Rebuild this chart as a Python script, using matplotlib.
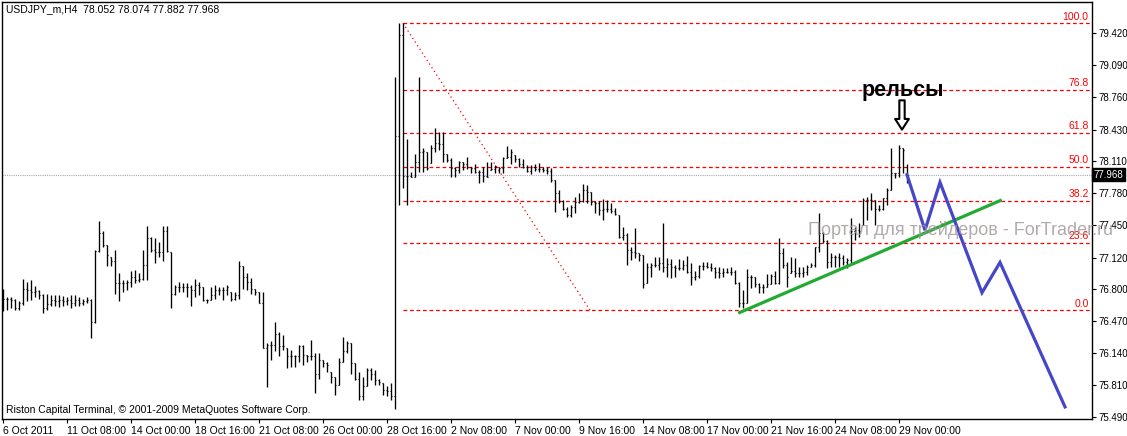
import numpy as np
import matplotlib.pyplot as plt

plt.rcParams['font.family'] = ['Liberation Sans', 'DejaVu Sans']
plt.rcParams['font.size'] = 7

# ---- data (H4 bars, index = bar number) ----
symbol = 'USDJPY_m,H4'

opens = [
    76.62, 76.70, 76.70, 76.69, 76.60, 76.65, 76.80, 76.79, 76.77, 76.78,
    76.74, 76.60, 76.64, 76.69, 76.67, 76.69, 76.67, 76.68, 76.65, 76.69,
    76.65, 76.67, 76.69, 76.46, 77.19, 77.37, 77.25, 77.13, 77.08, 76.86,
    76.86, 76.86, 76.87, 76.92, 76.89, 76.90, 77.04, 77.32, 77.20, 77.18,
    77.18, 77.39, 77.18, 76.75, 76.82, 76.82, 76.82, 76.82, 76.79, 76.84,
    76.82, 76.69, 76.69, 76.74, 76.79, 76.79, 76.79, 76.77, 76.70, 76.74,
    77.03, 76.92, 76.87, 76.80, 76.77, 76.65, 76.19, 76.22, 76.22, 76.34,
    76.21, 76.19, 76.11, 76.11, 76.11, 76.21, 76.12, 76.11, 76.11, 75.93,
    76.07, 76.04, 75.95, 75.90, 75.81, 76.05, 76.16, 76.24, 76.04, 75.88,
    75.70, 75.80, 75.97, 75.93, 75.87, 75.83, 75.76, 75.75, 75.70, 78.36,
    79.40, 77.96, 77.96, 77.94, 78.10, 78.20, 78.20, 78.09, 78.24, 78.29,
    78.28, 78.18, 78.12, 78.04, 78.02, 78.10, 78.08, 78.05, 78.04, 78.00,
    78.00, 77.96, 78.02, 78.03, 78.05, 78.04, 78.14, 78.15, 78.17, 78.13,
    78.08, 78.05, 78.01, 78.05, 78.03, 78.03, 78.02, 78.01, 77.91, 77.78,
    77.70, 77.62, 77.56, 77.64, 77.69, 77.70, 77.81, 77.79, 77.69, 77.68,
    77.61, 77.62, 77.62, 77.60, 77.56, 77.33, 77.35, 77.20, 77.18, 77.17,
    77.15, 76.86, 77.02, 77.04, 77.04, 77.06, 77.02, 77.05, 77.02, 77.01,
    77.01, 77.04, 76.97, 76.92, 76.93, 77.03, 77.03, 77.02, 77.01, 76.97,
    76.96, 76.97, 76.97, 76.97, 76.86, 76.65, 76.65, 76.92, 76.92, 76.85,
    76.82, 76.82, 76.85, 76.93, 76.86, 77.17, 77.04, 76.96, 76.98, 76.96,
    76.96, 76.97, 77.02, 77.04, 77.23, 77.37, 77.29, 77.07, 77.13, 77.13,
    77.12, 77.07, 77.09, 77.39, 77.40, 77.45, 77.71, 77.71, 77.71, 77.62,
    77.62, 77.73, 77.81, 77.99, 77.99, 78.24, 78.052,
]

highs = [
    76.80, 76.72, 76.72, 76.70, 76.67, 76.90, 76.87, 76.89, 76.83, 76.79,
    76.75, 76.75, 76.74, 76.74, 76.74, 76.73, 76.72, 76.74, 76.74, 76.72,
    76.70, 76.72, 76.70, 77.20, 77.49, 77.39, 77.25, 77.13, 77.20, 76.96,
    76.89, 76.89, 76.98, 76.99, 76.96, 77.20, 77.44, 77.33, 77.32, 77.28,
    77.44, 77.44, 77.18, 76.84, 76.87, 76.86, 76.86, 76.84, 76.90, 76.87,
    76.82, 76.70, 76.82, 76.84, 76.82, 76.82, 76.84, 76.77, 76.77, 77.08,
    77.03, 76.96, 76.91, 76.80, 76.77, 76.77, 76.24, 76.26, 76.46, 76.36,
    76.33, 76.19, 76.17, 76.12, 76.22, 76.22, 76.12, 76.28, 76.14, 76.14,
    76.07, 76.05, 75.95, 75.90, 76.09, 76.31, 76.27, 76.24, 76.04, 75.95,
    75.90, 75.99, 75.99, 75.97, 75.88, 75.83, 75.80, 75.83, 78.97, 79.52,
    79.52, 78.33, 78.00, 78.18, 78.97, 78.24, 78.20, 78.27, 78.45, 78.41,
    78.41, 78.18, 78.14, 78.05, 78.11, 78.10, 78.15, 78.05, 78.08, 78.02,
    78.05, 78.10, 78.10, 78.07, 78.05, 78.15, 78.26, 78.23, 78.17, 78.14,
    78.13, 78.07, 78.07, 78.08, 78.09, 78.05, 78.05, 78.04, 77.91, 77.81,
    77.71, 77.64, 77.66, 77.74, 77.78, 77.87, 77.86, 77.79, 77.70, 77.70,
    77.72, 77.71, 77.68, 77.63, 77.56, 77.43, 77.37, 77.23, 77.42, 77.17,
    77.15, 77.06, 77.06, 77.13, 77.13, 77.47, 77.12, 77.10, 77.04, 77.10,
    77.09, 77.14, 77.06, 76.98, 77.04, 77.07, 77.07, 77.06, 77.02, 77.02,
    77.01, 77.01, 77.02, 76.99, 76.87, 76.79, 77.00, 76.94, 76.92, 76.86,
    76.85, 76.95, 76.95, 76.98, 77.32, 77.22, 77.07, 77.13, 77.12, 77.02,
    77.02, 77.04, 77.06, 77.23, 77.58, 77.38, 77.30, 77.17, 77.15, 77.17,
    77.15, 77.12, 77.53, 77.43, 77.47, 77.73, 77.74, 77.78, 77.71, 77.66,
    77.73, 77.83, 78.24, 77.99, 78.27, 78.24, 78.074,
]

lows = [
    76.57, 76.58, 76.60, 76.58, 76.58, 76.63, 76.67, 76.69, 76.72, 76.70,
    76.55, 76.58, 76.62, 76.62, 76.61, 76.62, 76.63, 76.60, 76.62, 76.62,
    76.63, 76.65, 76.30, 76.45, 77.18, 77.23, 77.03, 77.03, 76.75, 76.67,
    76.77, 76.79, 76.82, 76.86, 76.87, 76.89, 76.89, 77.18, 77.06, 77.13,
    77.08, 77.18, 76.60, 76.74, 76.77, 76.77, 76.72, 76.62, 76.72, 76.74,
    76.67, 76.65, 76.69, 76.70, 76.74, 76.69, 76.74, 76.67, 76.69, 76.70,
    76.80, 76.79, 76.75, 76.74, 76.65, 76.19, 75.79, 76.07, 76.16, 76.11,
    76.17, 75.99, 76.00, 76.00, 76.05, 76.02, 76.05, 76.07, 75.73, 75.88,
    76.00, 75.95, 75.83, 75.71, 75.81, 76.05, 76.14, 75.93, 75.87, 75.66,
    75.66, 75.80, 75.87, 75.81, 75.81, 75.71, 75.70, 75.66, 75.57, 77.66,
    77.83, 77.66, 77.94, 77.94, 78.00, 78.00, 78.02, 78.09, 78.20, 78.22,
    78.10, 78.10, 77.94, 77.95, 77.99, 78.02, 78.03, 77.99, 77.99, 77.88,
    77.89, 77.94, 78.02, 77.99, 77.99, 77.99, 78.14, 78.08, 78.10, 78.05,
    78.04, 78.00, 77.98, 78.01, 78.00, 78.00, 77.98, 77.89, 77.59, 77.68,
    77.61, 77.54, 77.54, 77.58, 77.68, 77.69, 77.68, 77.66, 77.58, 77.56,
    77.50, 77.59, 77.58, 77.56, 77.32, 77.30, 77.04, 77.09, 77.12, 77.08,
    76.81, 76.86, 76.92, 77.02, 76.99, 76.97, 76.92, 76.91, 76.92, 76.99,
    76.99, 76.96, 76.84, 76.89, 76.91, 76.99, 77.01, 76.98, 76.91, 76.91,
    76.92, 76.96, 76.94, 76.85, 76.61, 76.60, 76.65, 76.81, 76.82, 76.76,
    76.76, 76.82, 76.85, 76.85, 76.85, 77.01, 76.82, 76.96, 76.92, 76.92,
    76.92, 76.94, 77.02, 77.02, 77.18, 77.27, 77.01, 77.02, 77.02, 77.02,
    77.04, 77.01, 77.06, 77.30, 77.33, 77.45, 77.50, 77.61, 77.45, 77.60,
    77.61, 77.66, 77.81, 77.93, 77.94, 77.99, 77.882,
]

closes = [
    76.70, 76.70, 76.69, 76.60, 76.65, 76.80, 76.79, 76.77, 76.78, 76.74,
    76.60, 76.64, 76.69, 76.67, 76.69, 76.67, 76.68, 76.65, 76.69, 76.65,
    76.67, 76.69, 76.46, 77.19, 77.37, 77.25, 77.15, 77.08, 76.86, 76.86,
    76.86, 76.87, 76.92, 76.89, 76.90, 77.04, 77.32, 77.20, 77.18, 77.18,
    77.39, 77.19, 76.75, 76.82, 76.82, 76.82, 76.82, 76.79, 76.84, 76.82,
    76.69, 76.69, 76.74, 76.79, 76.79, 76.79, 76.82, 76.70, 76.74, 77.03,
    76.92, 76.87, 76.80, 76.77, 76.65, 76.19, 76.22, 76.22, 76.34, 76.21,
    76.21, 76.11, 76.11, 76.11, 76.21, 76.12, 76.11, 76.11, 75.93, 76.07,
    76.04, 76.02, 75.90, 75.81, 76.05, 76.16, 76.24, 76.04, 75.88, 75.70,
    75.80, 75.97, 75.93, 75.87, 75.84, 75.76, 75.75, 75.70, 78.36, 79.40,
    77.96, 77.96, 77.94, 78.10, 78.20, 78.21, 78.04, 78.24, 78.29, 78.28,
    78.18, 78.12, 78.04, 78.02, 78.10, 78.08, 78.05, 78.04, 78.00, 78.00,
    77.96, 77.95, 78.03, 78.05, 78.04, 78.14, 78.15, 78.20, 78.13, 78.08,
    78.05, 78.01, 78.05, 78.03, 78.03, 78.02, 78.01, 77.91, 77.78, 77.70,
    77.62, 77.56, 77.64, 77.69, 77.70, 77.81, 77.79, 77.69, 77.68, 77.61,
    77.62, 77.62, 77.60, 77.57, 77.33, 77.35, 77.20, 77.18, 77.17, 77.15,
    76.85, 77.02, 77.04, 77.04, 77.06, 77.02, 77.05, 77.02, 77.01, 77.01,
    77.04, 76.97, 76.92, 76.93, 77.03, 77.03, 77.02, 77.01, 76.97, 76.96,
    76.97, 76.97, 76.97, 76.86, 76.65, 76.65, 76.92, 76.92, 76.85, 76.82,
    76.82, 76.85, 76.93, 76.86, 77.17, 77.04, 76.92, 76.98, 76.96, 76.96,
    76.97, 77.02, 77.04, 77.23, 77.37, 77.29, 77.07, 77.13, 77.13, 77.12,
    77.07, 77.09, 77.39, 77.40, 77.39, 77.71, 77.71, 77.71, 77.62, 77.62,
    77.73, 77.81, 77.99, 77.99, 78.24, 78.22, 77.968,
]

x_labels = ['6 Oct 2011', '11 Oct 08:00', '14 Oct 00:00', '18 Oct 16:00',
            '21 Oct 08:00', '26 Oct 00:00', '28 Oct 16:00', '2 Nov 08:00',
            '7 Nov 00:00', '9 Nov 16:00', '14 Nov 08:00', '17 Nov 00:00',
            '21 Nov 16:00', '24 Nov 08:00', '29 Nov 00:00']
bars_per_label = 16

price_ticks = [79.420, 79.090, 78.760, 78.430, 78.110, 77.780, 77.450,
               77.120, 76.800, 76.470, 76.140, 75.810, 75.490]

# Fibonacci retracement anchors (bar, price)
fib_start, fib_high = 100, 79.52
fib_end, fib_low = 146.75, 76.58
fib_levels = [100.0, 76.8, 61.8, 50.0, 38.2, 23.6, 0.0]

# hand drawn objects
trend_x = [183.8, 249.7]
trend_y = [76.55, 77.71]
forecast_x = [226, 230.5, 234.25, 244.75, 249.25, 265.5]
forecast_y = [77.968, 77.40, 77.89, 76.76, 77.07, 75.59]
rails_bar, rails_price = 224.75, 78.43

# ---- figure ----
W, H = 1127, 436
fig = plt.figure(figsize=(W / 100, H / 100), dpi=100)
ax = fig.add_axes([2 / W, 1 - 419 / H, 1090 / W, 417 / H])
ax.set_xlim(-0.25, 272.25)
ax.set_ylim(75.466, 79.7375)

# OHLC bars
idx = np.arange(len(closes))
ax.vlines(idx, lows, highs, colors='black', lw=0.95, zorder=3)
ax.hlines(opens, idx - 0.32, idx, colors='black', lw=0.85, zorder=3)
ax.hlines(closes, idx, idx + 0.32, colors='black', lw=0.85, zorder=3)

# current price line
ax.axhline(closes[-1], color='#a8a8b0', ls=(0, (1, 1)), lw=0.8, zorder=1)

# fibo
fib_prices = [fib_low + (fib_high - fib_low) * lv / 100 for lv in fib_levels]
ax.hlines(fib_prices, fib_start, 272.25, colors='red', linestyles=(0, (3, 2.2)),
          lw=0.9, zorder=2)
ax.plot([fib_start, fib_end], [fib_high, fib_low], color='red', ls=(0, (1, 2.5)),
        lw=0.9, zorder=2)
for lv, p in zip(fib_levels, fib_prices):
    ax.text(271.4, p + 0.015, f'{lv:.1f}', ha='right', va='bottom', color='red',
            fontsize=7.5, zorder=5)

# trend line and forecast
ax.plot(trend_x, trend_y, color='#22aa33', lw=2.3, solid_capstyle='butt', zorder=4)
ax.plot(forecast_x, forecast_y, color='#4646c8', lw=2.3, solid_joinstyle='miter', zorder=4)

# annotation
ax.text(rails_bar + 0.3, rails_price + 0.40, 'рельсы', ha='center', va='center',
        fontsize=15.5, fontweight='bold', color='black', zorder=6)
ax.annotate('', xy=(rails_bar, rails_price), xytext=(rails_bar, rails_price + 0.30),
            arrowprops=dict(arrowstyle='simple,head_length=0.7,head_width=0.9,tail_width=0.35',
                            fc='white', ec='black', lw=1.5, mutation_scale=11,
                            shrinkA=0, shrinkB=0), zorder=6)

# axes styling
for s in ax.spines.values():
    s.set_color('black')
    s.set_linewidth(1.0)
ax.yaxis.tick_right()
ax.set_yticks(price_ticks)
ax.set_yticklabels([f'{p:.3f}' for p in price_ticks])
ax.tick_params(axis='y', direction='out', length=3, width=0.8, pad=2, labelsize=7)
ax.set_xticks(np.arange(len(x_labels)) * bars_per_label)
ax.set_xticklabels(x_labels, ha='left')
ax.tick_params(axis='x', direction='out', length=3, width=0.8, pad=2, labelsize=7.5)

# current price label
ax.text(1.0015, closes[-1], f'{closes[-1]:.3f}', transform=ax.get_yaxis_transform(),
        ha='left', va='center', color='white', fontsize=7,
        bbox=dict(boxstyle='square,pad=0.15', fc='black', ec='black'), clip_on=False)

fig.text(6 / W, 1 - 9 / H, f'{symbol}  {opens[-1]:.3f} {highs[-1]:.3f} {lows[-1]:.3f} {closes[-1]:.3f}',
         ha='left', va='center', fontsize=7.5)
fig.text(6 / W, 1 - 410 / H, 'Riston Capital Terminal, © 2001-2009 MetaQuotes Software Corp.',
         ha='left', va='center', fontsize=7.5)
fig.text(808 / W, 1 - 230 / H, 'Портал для трейдеров - ForTrader.ru', ha='left', va='center',
         fontsize=13, color='#a09696', alpha=0.8, zorder=10)

fig.savefig('out.png', dpi=100, facecolor='white')
